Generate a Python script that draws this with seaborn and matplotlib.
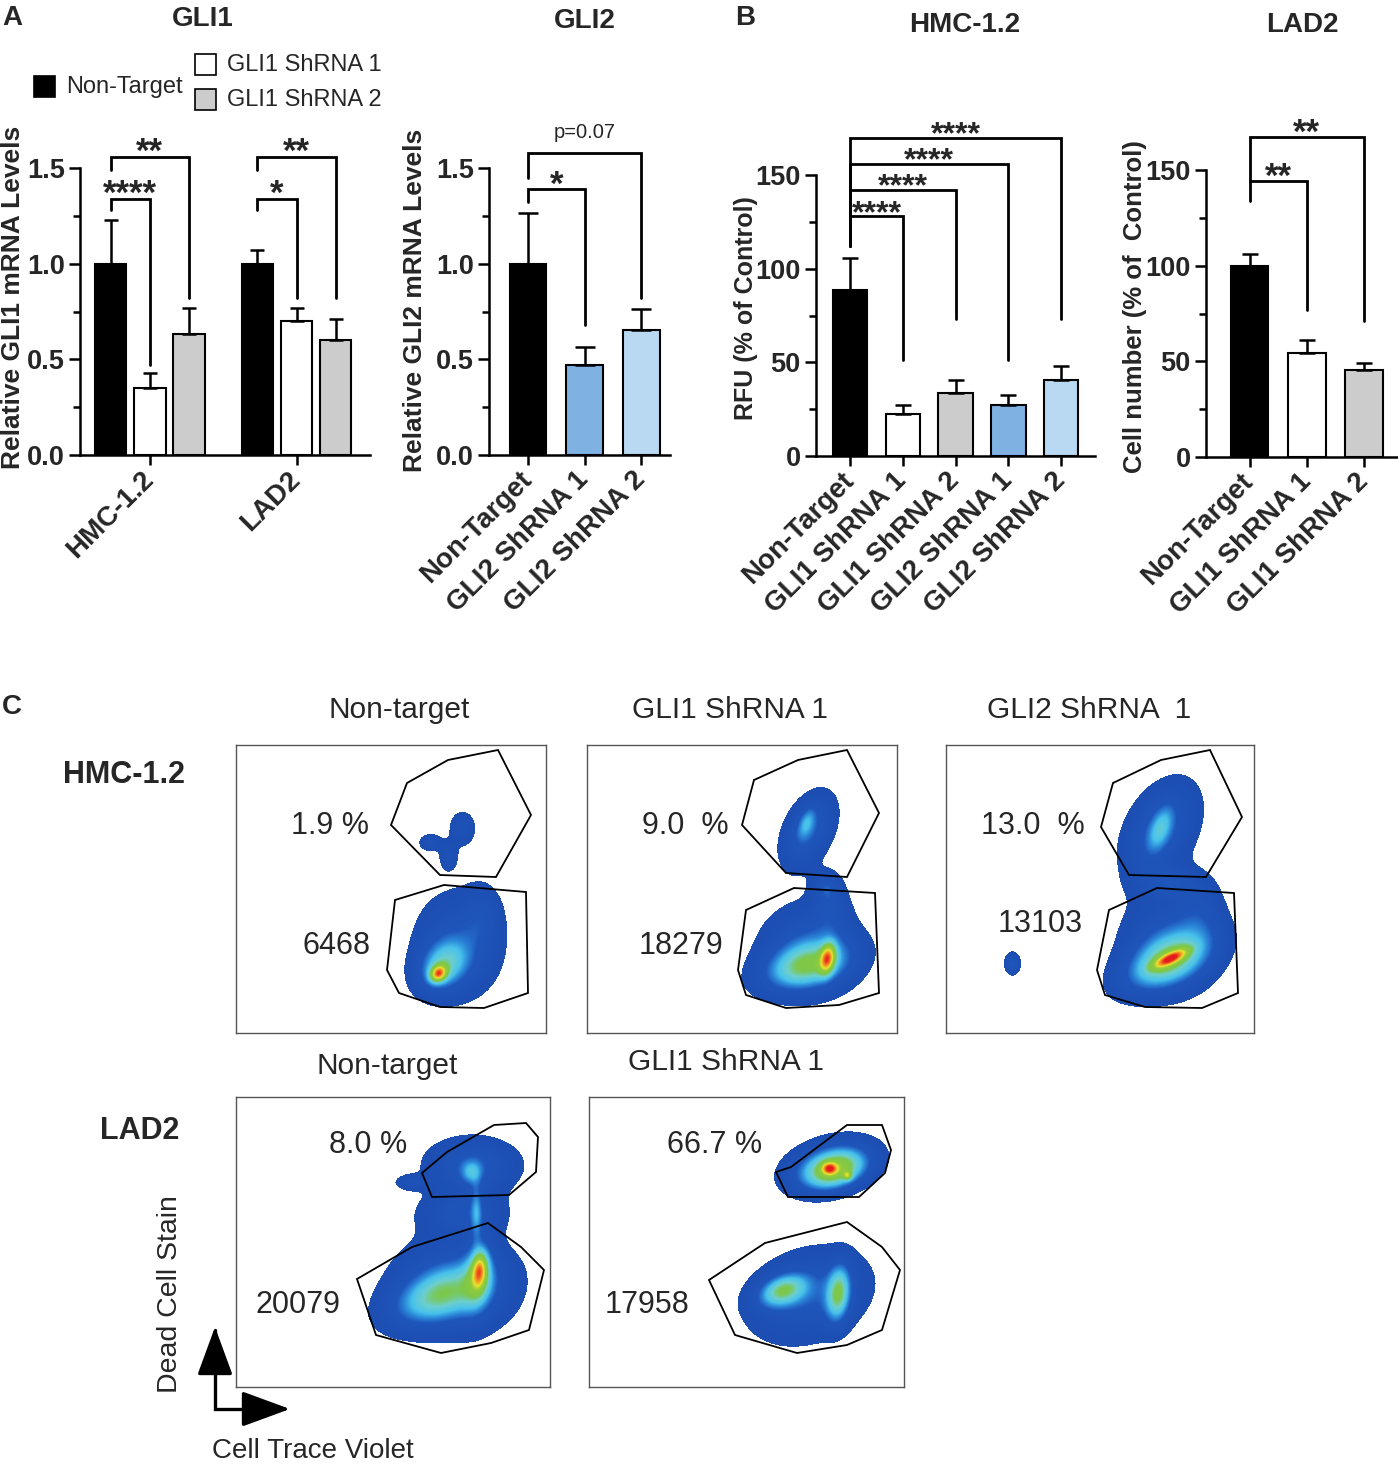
import numpy as np
import pandas as pd
import matplotlib
matplotlib.use('Agg')
import matplotlib.pyplot as plt
import seaborn as sns
from matplotlib.colors import LinearSegmentedColormap
from matplotlib.patches import Rectangle, Polygon
from matplotlib.ticker import AutoMinorLocator, MultipleLocator, FormatStrFormatter

W, H = 1398, 1464

# ---- panel A data ----
gli1_cells = ['HMC-1.2', 'LAD2']
gli1_groups = ['Non-Target', 'GLI1 ShRNA 1', 'GLI1 ShRNA 2']
gli1_colors = ['#000000', '#ffffff', '#cccccc']
gli1_mean = [[1.00, 0.35, 0.63], [1.00, 0.70, 0.60]]
gli1_err = [[0.23, 0.08, 0.14], [0.07, 0.07, 0.11]]
# (bar i, bar j, line y, left end, right end, label)
gli1_brackets = [(0, 1, 1.34, 1.28, 0.47, '****'), (0, 2, 1.56, 1.49, 0.82, '**'),
                 (3, 4, 1.34, 1.28, 0.82, '*'), (3, 5, 1.56, 1.49, 0.82, '**')]

gli2_labels = ['Non-Target', 'GLI2 ShRNA 1', 'GLI2 ShRNA 2']
gli2_colors = ['#000000', '#7fb2e3', '#b9d8f2']
gli2_mean = [1.00, 0.47, 0.655]
gli2_err = [0.265, 0.095, 0.11]
gli2_brackets = [(0, 1, 1.39, 1.32, 0.68, '*'), (0, 2, 1.58, 1.45, 0.82, 'p=0.07')]

# ---- panel B data ----
hmc_labels = ['Non-Target', 'GLI1 ShRNA 1', 'GLI1 ShRNA 2', 'GLI2 ShRNA 1', 'GLI2 ShRNA 2']
hmc_colors = ['#000000', '#ffffff', '#cccccc', '#7fb2e3', '#b9d8f2']
hmc_mean = [88.5, 22.2, 33.5, 27.3, 40.7]
hmc_err = [17.0, 5.1, 7.0, 5.0, 7.6]
hmc_brackets = [(0, 1, 128, 112, 51, '****'), (0, 2, 142, 112, 73, '****'),
                (0, 3, 156, 112, 51, '****'), (0, 4, 170, 112, 73, '****')]

lad_labels = ['Non-Target', 'GLI1 ShRNA 1', 'GLI1 ShRNA 2']
lad_colors = ['#000000', '#ffffff', '#cccccc']
lad_mean = [99.9, 54.4, 45.3]
lad_err = [6.4, 6.6, 3.6]
lad_brackets = [(0, 1, 144, 134, 77, '**'), (0, 2, 167, 144, 71, '**')]

# ---- panel C data: populations (cx, cy, s_major, s_minor, angle, weight) ----
hmc_nt_pops = [(462, 828, 12, 9, 90, 0.12), (430, 842, 8, 6, 0, 0.12), (448, 856, 9, 6, 90, 0.12),
               (458, 945, 34, 28, 90, 0.18), (482, 915, 20, 12, 90, 0.10),
               (442, 966, 19, 15, 45, 0.30), (438, 973, 6, 5, 45, 0.60)]
hmc_g1_pops = [(808, 830, 26, 15, 65, 0.22), (806, 822, 11, 5, 70, 0.14),
               (826, 886, 10, 9, 90, 0.14),
               (810, 950, 32, 29, 0, 0.20), (830, 908, 18, 12, 90, 0.12),
               (805, 966, 30, 15, 15, 0.36), (827, 958, 10, 5, 80, 0.55)]
hmc_g2_pops = [(1160, 830, 34, 21, 62, 0.22), (1160, 828, 16, 7, 70, 0.17),
               (1170, 882, 20, 11, 0, 0.14),
               (1170, 945, 31, 31, 0, 0.20), (1200, 910, 16, 22, 0, 0.10),
               (1166, 962, 32, 16, 25, 0.36), (1170, 958, 12, 4, 25, 0.55),
               (1012, 963, 7, 5, 90, 0.2)]
lad_nt_pops = [(472, 1165, 30, 18, 0, 0.20), (471, 1172, 8, 7, 90, 0.17), (410, 1182, 10, 5, 0, 0.12),
               (462, 1212, 28, 15, 0, 0.15), (476, 1212, 20, 4, 90, 0.17),
               (455, 1285, 40, 32, 0, 0.20), (437, 1296, 34, 17, 20, 0.32),
               (478, 1275, 24, 10, 85, 0.25), (479, 1270, 12, 5, 85, 0.45)]
lad_g1_pops = [(830, 1165, 29, 16, 15, 0.30), (835, 1170, 21, 12, 15, 0.36),
               (829, 1168, 5, 4, 0, 0.45), (847, 1175, 3, 3, 0, 0.30),
               (808, 1295, 40, 28, 20, 0.20), (782, 1290, 17, 10, 20, 0.36), (838, 1293, 19, 8, 85, 0.38)]

hmc_nt_gates = [[(391, 825), (407, 783), (448, 760), (498, 750), (531, 815), (496, 877), (440, 875)],
                [(387, 970), (395, 900), (444, 885), (526, 892), (528, 993), (484, 1008), (440, 1007), (399, 993)]]
hmc_g1_gates = [[(742, 825), (754, 780), (798, 760), (847, 750), (879, 813), (847, 877), (786, 873)],
                [(738, 970), (746, 910), (794, 888), (875, 893), (879, 993), (839, 1005), (786, 1008), (746, 995)]]
hmc_g2_gates = [[(1101, 827), (1113, 783), (1161, 760), (1210, 750), (1242, 817), (1206, 877), (1129, 875)],
                [(1097, 970), (1109, 910), (1157, 888), (1234, 893), (1238, 993), (1202, 1008), (1145, 1007), (1105, 995)]]
lad_nt_gates = [[(432, 1197), (422, 1173), (447, 1152), (494, 1125), (526, 1123), (538, 1137), (536, 1172), (509, 1195)],
                [(357, 1279), (412, 1247), (488, 1223), (521, 1247), (544, 1270), (529, 1330), (491, 1343), (441, 1353), (376, 1335)]]
lad_g1_gates = [[(788, 1197), (776, 1172), (791, 1167), (847, 1125), (882, 1125), (891, 1150), (885, 1173), (859, 1197)],
                [(709, 1280), (765, 1243), (847, 1222), (882, 1247), (900, 1270), (882, 1330), (847, 1345), (797, 1353), (735, 1335)]]

flow_titles = ['Non-target', 'GLI1 ShRNA 1', 'GLI2 ShRNA  1', 'Non-target', 'GLI1 ShRNA 1']
flow_pct = ['1.9 %', '9.0  %', '13.0  %', '8.0 %', '66.7 %']
flow_counts = ['6468', '18279', '13103', '20079', '17958']

sns.set_theme(style='ticks')
plt.rcParams['font.family'] = ['Liberation Sans', 'DejaVu Sans']
plt.rcParams['font.weight'] = 'bold'

fig = plt.figure(figsize=(W / 100, H / 100), dpi=100)
fig.patch.set_facecolor('white')


def add_ax(x0, y0, x1, y1):
    return fig.add_axes([x0 / W, 1 - y1 / H, (x1 - x0) / W, (y1 - y0) / H])


def style_bars(ax, ymax, step, fmt, xlim, labels):
    sns.despine(ax=ax)
    ax.set_facecolor('none')
    ax.set_ylim(0, ymax)
    ax.set_xlim(*xlim)
    ax.yaxis.set_major_locator(MultipleLocator(step))
    ax.yaxis.set_minor_locator(AutoMinorLocator(2))
    ax.yaxis.set_major_formatter(FormatStrFormatter(fmt))
    ax.tick_params(axis='y', which='major', length=8, width=1.8, labelsize=19.5, pad=3, color='black')
    ax.tick_params(axis='y', which='minor', length=5, width=1.8, color='black')
    ax.tick_params(axis='x', length=7, width=1.8, labelsize=20, pad=8, color='black')
    for s in ax.spines.values():
        s.set_linewidth(1.8)
        s.set_color('black')
    ax.set_xlabel('')
    ax.set_ylabel('')
    ax.grid(False)
    ticks = ax.get_xticks()
    ax.set_xticks(ticks)
    ax.set_xticklabels(labels, rotation=45, ha='right', va='center', rotation_mode='anchor')


def bar_centers(ax):
    ps = sorted(ax.patches, key=lambda p: p.get_x())
    return [p.get_x() + p.get_width() / 2 for p in ps]


def add_err(ax, centers, means, errs, cap):
    ax.errorbar(centers, means, yerr=[np.zeros(len(means)), errs], fmt='none',
                ecolor='black', elinewidth=1.8, capsize=cap, capthick=1.8, zorder=3)


def add_brackets(ax, centers, brackets, star_size=25):
    for i, j, yl, yi, yj, lab in brackets:
        xi, xj = centers[i], centers[j]
        ax.plot([xi, xi, xj, xj], [yi, yl, yl, yj], color='black', lw=2.0,
                clip_on=False, solid_joinstyle='miter', zorder=4)
        if lab.startswith('p'):
            ax.annotate(lab, xy=((xi + xj) / 2, yl), xytext=(0, 8), textcoords='offset points',
                        ha='center', va='bottom', fontsize=14.5, fontweight='normal', annotation_clip=False)
        else:
            ax.annotate(lab, xy=((xi + xj) / 2, yl), xytext=(0, -4), textcoords='offset points',
                        ha='center', va='baseline', fontsize=star_size, fontweight='bold',
                        annotation_clip=False)


# ---- A: GLI1 ----
ax1 = add_ax(80, 168, 370, 455)
df1 = pd.DataFrame([(c, g, gli1_mean[ci][gi]) for ci, c in enumerate(gli1_cells)
                    for gi, g in enumerate(gli1_groups)], columns=['cell', 'group', 'value'])
sns.barplot(data=df1, x='cell', y='value', hue='group', palette=gli1_colors, width=0.8, gap=0.2,
            saturation=1, edgecolor='black', linewidth=1.5, errorbar=None, legend=False, ax=ax1)
style_bars(ax1, 1.5, 0.5, '%.1f', (-0.476, 1.5), gli1_cells)
c1 = bar_centers(ax1)
add_err(ax1, c1, np.ravel(gli1_mean), np.ravel(gli1_err), 5)
add_brackets(ax1, c1, gli1_brackets)

# ---- A: GLI2 ----
ax2 = add_ax(489, 168, 670, 455)
sns.barplot(x=gli2_labels, y=gli2_mean, hue=gli2_labels, palette=gli2_colors, width=0.65,
            saturation=1, edgecolor='black', linewidth=1.5, errorbar=None, legend=False, ax=ax2)
style_bars(ax2, 1.5, 0.5, '%.1f', (-0.69, 2.51), gli2_labels)
c2 = bar_centers(ax2)
add_err(ax2, c2, gli2_mean, gli2_err, 7)
add_brackets(ax2, c2, gli2_brackets)

# ---- B: HMC-1.2 ----
ax3 = add_ax(816, 175, 1095, 456)
sns.barplot(x=hmc_labels, y=hmc_mean, hue=hmc_labels, palette=hmc_colors, width=0.65,
            saturation=1, edgecolor='black', linewidth=1.5, errorbar=None, legend=False, ax=ax3)
style_bars(ax3, 150, 50, '%d', (-0.645, 4.64), hmc_labels)
c3 = bar_centers(ax3)
add_err(ax3, c3, hmc_mean, hmc_err, 6)
add_brackets(ax3, c3, hmc_brackets, star_size=23)

# ---- B: LAD2 ----
ax4 = add_ax(1206, 170, 1398, 457)
sns.barplot(x=lad_labels, y=lad_mean, hue=lad_labels, palette=lad_colors, width=0.66,
            saturation=1, edgecolor='black', linewidth=1.5, errorbar=None, legend=False, ax=ax4)
style_bars(ax4, 150, 50, '%d', (-0.76, 2.59), lad_labels)
c4 = bar_centers(ax4)
add_err(ax4, c4, lad_mean, lad_err, 6)
add_brackets(ax4, c4, lad_brackets)

# ---- C: flow density plots ----
flow_cmap = LinearSegmentedColormap.from_list('flow', [
    (0.0, '#1d4cb0'), (0.20, '#1f56bb'), (0.26, '#2a84d8'), (0.33, '#47c2ec'), (0.42, '#6ccfcf'),
    (0.50, '#7cc74a'), (0.64, '#93cb3c'), (0.75, '#e9e22c'), (0.87, '#f28a22'), (1.0, '#e41c1c')])
flow_cmap.set_bad((1, 1, 1, 0))

flow_boxes = [(236, 745, 546, 1033), (587, 745, 897, 1033), (946, 745, 1254, 1033),
              (236, 1097, 550, 1387), (589, 1097, 904, 1387)]
flow_pops = [hmc_nt_pops, hmc_g1_pops, hmc_g2_pops, lad_nt_pops, lad_g1_pops]
flow_gates = [hmc_nt_gates, hmc_g1_gates, hmc_g2_gates, lad_nt_gates, lad_g1_gates]


def density(pops, xs, ys):
    X, Y = np.meshgrid(xs, ys)
    d = np.zeros_like(X, dtype=float)
    for cx, cy, sa, sb, ang, w in pops:
        t = np.deg2rad(ang)
        dx = X - cx
        dy = cy - Y
        u = dx * np.cos(t) + dy * np.sin(t)
        v = -dx * np.sin(t) + dy * np.cos(t)
        d += w * np.exp(-0.5 * ((u / sa) ** 2 + (v / sb) ** 2))
    return d


for (x0, y0, x1, y1), pops, gates in zip(flow_boxes, flow_pops, flow_gates):
    axf = add_ax(x0, y0, x1, y1)
    xs = np.arange(x0, x1, 1.0)
    ys = np.arange(y0, y1, 1.0)
    d = np.ma.masked_less(density(pops, xs, ys), 0.045)
    axf.imshow(d, cmap=flow_cmap, vmin=0, vmax=1, extent=(x0, x1, y1, y0), origin='upper',
               interpolation='bilinear', aspect='auto')
    for g in gates:
        axf.add_patch(Polygon(g, closed=True, fill=False, edgecolor='black', lw=1.3))
    axf.set_xlim(x0, x1)
    axf.set_ylim(y1, y0)
    axf.set_xticks([])
    axf.set_yticks([])
    for s in axf.spines.values():
        s.set_visible(True)
        s.set_color('#555555')
        s.set_linewidth(1.0)

# ---- overlay for labels ----
ov = fig.add_axes([0, 0, 1, 1], zorder=10)
ov.set_xlim(0, W)
ov.set_ylim(H, 0)
ov.axis('off')
ov.patch.set_alpha(0)

for x, y, t in [(12, 18, 'A'), (745, 18, 'B'), (12, 707, 'C')]:
    ov.text(x, y, t, fontsize=20, fontweight='bold', ha='center', va='center')
for x, y, t in [(203, 19, 'GLI1'), (585, 21, 'GLI2'), (965, 25, 'HMC-1.2'), (1302, 25, 'LAD2')]:
    ov.text(x, y, t, fontsize=20, fontweight='bold', ha='center', va='center')
for x, y, t, fs in [(13, 297, 'Relative GLI1 mRNA Levels', 19), (415, 300, 'Relative GLI2 mRNA Levels', 19),
                    (746, 308, 'RFU (% of Control)', 18), (1135, 307, 'Cell number (% of  Control)', 18.5)]:
    ov.text(x, y, t, fontsize=fs, fontweight='bold', rotation=90, ha='center', va='center')

# legend of GLI1
for (x, y), col, lab in zip([(34, 76), (195, 54), (195, 89)], gli1_colors, gli1_groups):
    ov.add_patch(Rectangle((x, y), 21, 21, facecolor=col, edgecolor='black', lw=1.2))
    ov.text(x + 32, y + 11, lab, fontsize=17, fontweight='normal', ha='left', va='center')

# flow labels
for (tx, ty), t in zip([(399, 710), (730, 710), (1089, 710), (387, 1066), (726, 1062)], flow_titles):
    ov.text(tx, ty, t, fontsize=21.5, fontweight='normal', ha='center', va='center')
for (x, y), t in zip([(330, 826), (685, 826), (1033, 826), (368, 1145), (715, 1145)], flow_pct):
    ov.text(x, y, t, fontsize=22, fontweight='normal', ha='center', va='center')
for (x, y), t in zip([(336, 946), (681, 946), (1040, 924), (298, 1305), (647, 1305)], flow_counts):
    ov.text(x, y, t, fontsize=22, fontweight='normal', ha='center', va='center')
ov.text(124, 775, 'HMC-1.2', fontsize=22, fontweight='bold', ha='center', va='center')
ov.text(140, 1131, 'LAD2', fontsize=22, fontweight='bold', ha='center', va='center')
ov.text(170, 1294, 'Dead Cell Stain', fontsize=20.5, fontweight='normal', rotation=90, ha='center', va='center')
ov.text(313, 1451, 'Cell Trace Violet', fontsize=20, fontweight='normal', ha='center', va='center')

ov.plot([215, 215, 262], [1330, 1409, 1409], color='black', lw=2.4, solid_joinstyle='miter')
ov.annotate('', xy=(215, 1327), xytext=(215, 1362),
            arrowprops=dict(arrowstyle='-|>,head_length=1.5,head_width=0.55', color='black',
                            lw=2.4, shrinkA=0, shrinkB=0, mutation_scale=20))
ov.annotate('', xy=(290, 1409), xytext=(255, 1409),
            arrowprops=dict(arrowstyle='-|>,head_length=1.5,head_width=0.55', color='black',
                            lw=2.4, shrinkA=0, shrinkB=0, mutation_scale=20))

fig.savefig('out.png', dpi=100, facecolor='white')
